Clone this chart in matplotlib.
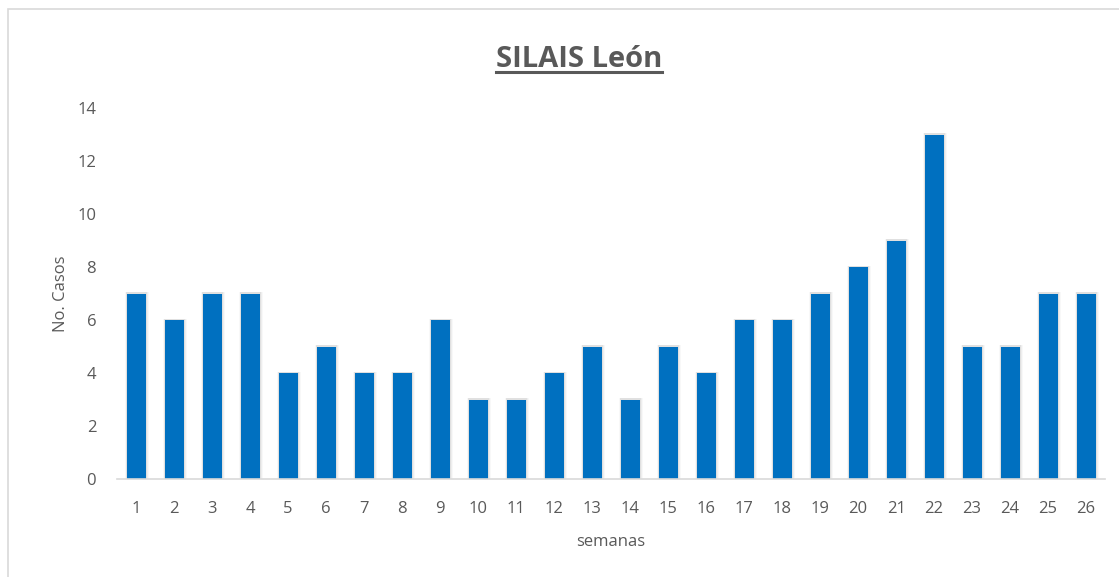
import matplotlib.pyplot as plt
from matplotlib.patches import Rectangle
from matplotlib.lines import Line2D
import numpy as np

plt.rcParams['font.family'] = ['Open Sans', 'DejaVu Sans']

# datos por semana epidemiologica
semanas = [str(i) for i in range(1, 27)]
casos = [7, 6, 7, 7, 4, 5, 4, 4, 6, 3, 3, 4, 5, 3, 5, 4, 6, 6, 7, 8, 9, 13, 5, 5, 7, 7]

gris = '#595959'
azul = '#0070C0'

fig = plt.figure(figsize=(11.19, 5.77), dpi=100)
ax = fig.add_axes([0.1046, 0.1698, 0.883, 0.643])

x = np.arange(len(casos))
# sombra difusa alrededor de las barras
for w, a in [(0.64, 0.05), (0.59, 0.08), (0.55, 0.12)]:
    ax.bar(x + 0.02, np.array(casos) + 0.05, width=w, color='#808080', alpha=a,
           zorder=1)
ax.bar(x, casos, width=0.5, color=azul, zorder=2)

ax.set_xlim(-0.5, len(casos) - 0.5)
ax.set_ylim(0, 14)
ax.set_yticks(range(0, 15, 2))
ax.set_xticks(x)
ax.set_xticklabels(semanas)

for s in ['top', 'right', 'left']:
    ax.spines[s].set_visible(False)
ax.spines['bottom'].set_color('#d9d9d9')
ax.spines['bottom'].set_linewidth(1.2)
ax.spines['bottom'].set_zorder(3)
ax.tick_params(axis='both', length=0, labelsize=12, colors=gris)
ax.tick_params(axis='y', pad=15)
ax.tick_params(axis='x', pad=16)

ax.set_ylabel('No. Casos', fontsize=12, color=gris, labelpad=6)
ax.set_xlabel('semanas', fontsize=12, color=gris, labelpad=12)

titulo = fig.text(0.5173, 0.897, 'SILAIS León', fontsize=21, fontweight='bold',
                  color=gris, ha='center', va='center')

# borde del area del grafico
fig.patches.append(Rectangle((8 / 1119, -0.1), 1.2, 1 - 9 / 577 + 0.1,
                             transform=fig.transFigure, fill=False,
                             edgecolor='#d9d9d9', linewidth=1.2))

# subrayado del titulo
fig.canvas.draw()
bb = titulo.get_window_extent().transformed(fig.transFigure.inverted())
fig.lines.append(Line2D([bb.x0, bb.x1], [bb.y0 + 0.004, bb.y0 + 0.004],
                        transform=fig.transFigure, color=gris, linewidth=2.2))

fig.savefig('out.png', dpi=100)
